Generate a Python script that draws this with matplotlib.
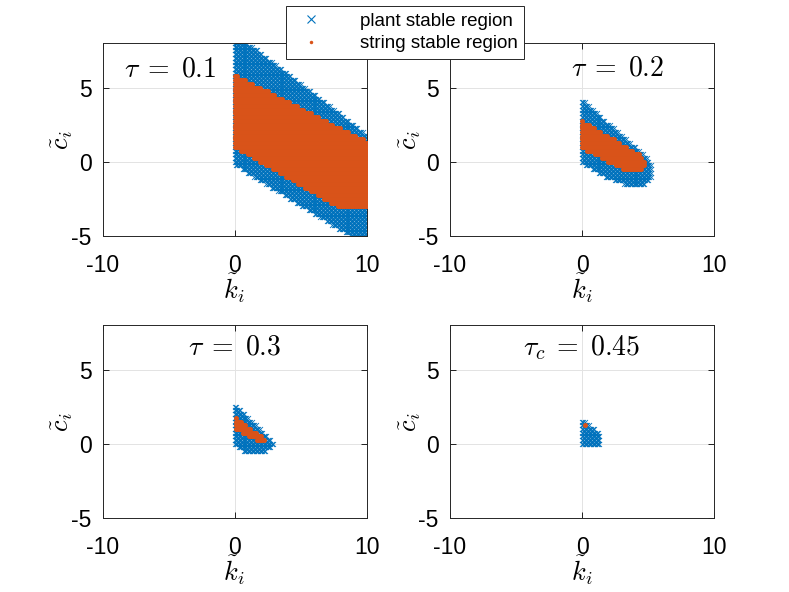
import numpy as np
import matplotlib
matplotlib.use("Agg")
import matplotlib.pyplot as plt
from matplotlib.path import Path
from matplotlib.lines import Line2D

plt.rcParams['font.family'] = ['Liberation Sans', 'DejaVu Sans']
plt.rcParams['mathtext.fontset'] = 'cm'
plt.rcParams['axes.unicode_minus'] = False

# region boundaries (k, c)
plant_01 = [(-0.05, -0.2), (-0.05, 8.0), (1.0, 8.0), (10.05, 1.8), (10.05, -5.7)]
string_01 = [(-0.05, 1.0), (-0.05, 5.9), (10.05, 1.35), (10.05, -3.05), (7.8, -3.05)]

plant_02 = [(-0.05, -0.1), (-0.05, 4.2), (4.9, 0.3), (5.3, -0.3), (5.2, -1.1),
            (4.6, -1.6), (3.5, -1.65), (1.5, -0.9)]
string_02 = [(-0.05, 0.95), (-0.05, 2.8), (4.5, 0.4), (4.8, -0.1), (4.5, -0.7),
             (3.5, -0.7)]

plant_03 = [(-0.05, -0.05), (-0.05, 2.7), (2.95, 0.1), (2.95, -0.15), (2.3, -0.55),
            (0.7, -0.55)]
string_03 = [(0.05, 0.95), (0.05, 1.8), (2.35, 0.3), (2.0, 0.1)]

plant_045 = [(-0.05, -0.05), (-0.05, 1.7), (1.35, 0.7), (1.35, -0.05)]
string_045_k = [0.2]
string_045_c = [1.25]

titles = [r'$\tau\;=\;0.1$', r'$\tau\;=\;0.2$', r'$\tau\;=\;0.3$', r'$\tau_c\;=\;0.45$']
title_pos = [(-4.9, 6.2), (2.7, 6.3), (0.0, 6.5), (0.0, 6.5)]

k_grid = np.arange(0, 10.001, 0.1)
c_grid = np.arange(-5, 8.001, 0.25)

BLUE = '#0072BD'
ORANGE = '#D95319'


def fill_points(verts):
    K, C = np.meshgrid(k_grid, c_grid)
    pts = np.column_stack([K.ravel(), C.ravel()])
    inside = Path(verts).contains_points(pts)
    return pts[inside, 0], pts[inside, 1]


fig = plt.figure(figsize=(7.89, 5.92), dpi=100)

positions = [
    [0.13, 0.6014, 0.3347, 0.326],
    [0.5703, 0.6014, 0.3347, 0.326],
    [0.13, 0.125, 0.3347, 0.326],
    [0.5703, 0.125, 0.3347, 0.326],
]

plants = [plant_01, plant_02, plant_03, plant_045]
strings = [string_01, string_02, string_03, None]

for i in range(4):
    ax = fig.add_axes(positions[i])
    pk, pc = fill_points(plants[i])
    ax.scatter(pk, pc, marker='x', s=13, linewidths=0.6, color=BLUE, zorder=2)
    if strings[i] is not None:
        sk, sc = fill_points(strings[i])
    else:
        sk, sc = string_045_k, string_045_c
    ax.scatter(sk, sc, marker='o', s=13, linewidths=0, color=ORANGE, zorder=3)

    ax.set_xlim(-10, 10)
    ax.set_ylim(-5, 8)
    ax.set_xticks([-10, 0, 10])
    ax.set_yticks([-5, 0, 5])
    ax.tick_params(axis='both', direction='in', top=True, right=True, labelsize=16.5,
                   length=4, width=0.6)
    ax.tick_params(axis='x', pad=13)
    ax.tick_params(axis='y', pad=8)
    ax.grid(True, color='#e3e3e3', linewidth=0.7)
    ax.set_axisbelow(True)
    for sp in ax.spines.values():
        sp.set_linewidth(0.7)
        sp.set_color('#262626')
    ax.set_xlabel(r'$\tilde{k}_i$', fontsize=19, labelpad=-4)
    ax.set_ylabel(r'$\tilde{c}_i$', fontsize=19, labelpad=-3)
    ax.text(title_pos[i][0], title_pos[i][1], titles[i], fontsize=20,
            ha='center', va='center', zorder=5)

handles = [
    Line2D([], [], linestyle='none', marker='x', markersize=6, markeredgewidth=0.8, color=BLUE),
    Line2D([], [], linestyle='none', marker='o', markersize=2.5, markeredgewidth=0, color=ORANGE),
]
leg = fig.legend(handles, ['plant stable region', 'string stable region'],
                 loc='upper center', bbox_to_anchor=(0.513, 0.99), fontsize=13.5,
                 fancybox=False, framealpha=1, edgecolor='#262626',
                 borderpad=0.35, handletextpad=1.6, labelspacing=0.3, borderaxespad=0)
leg.get_frame().set_linewidth(0.7)
leg.set_zorder(10)

fig.savefig('out.png', dpi=100)
